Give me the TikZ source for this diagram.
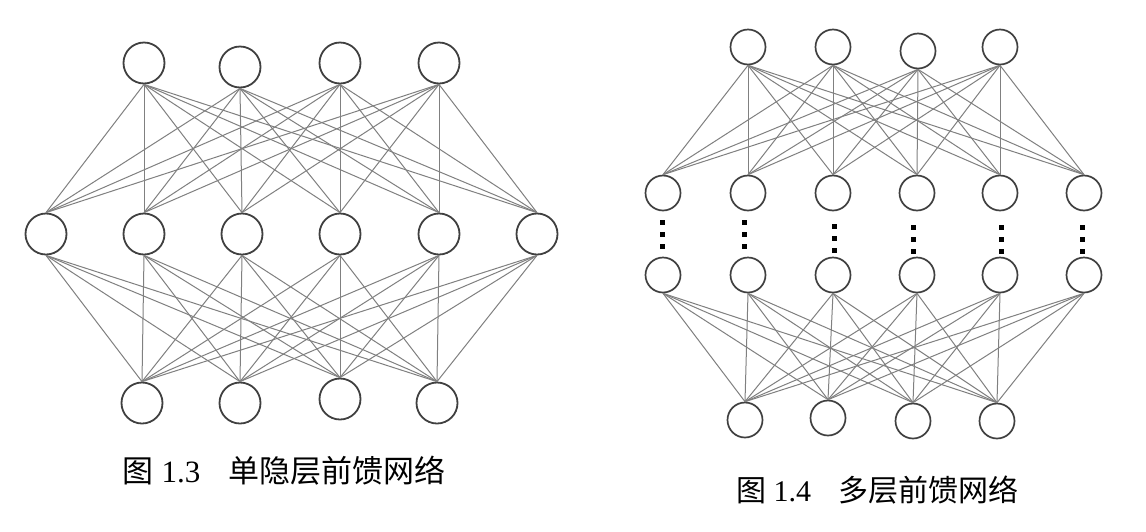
\documentclass[tikz,border=0pt]{standalone}
\usepackage{fontspec}
\setmainfont{Liberation Serif}
\newfontfamily\cjk{Noto Sans CJK SC}
\begin{document}
\begin{tikzpicture}[x=1pt,y=-1pt,
  neuronL/.style={circle,draw=black!75,line width=1.8pt,fill=white,minimum size=41pt,inner sep=0pt},
  neuronR/.style={circle,draw=black!75,line width=1.7pt,fill=white,minimum size=35pt,inner sep=0pt},
  link/.style={draw=black!50,line width=1pt},
  vdot/.style={rectangle,fill=black,minimum size=5pt,inner sep=0pt},
  capL/.style={font=\fontsize{31}{31}\selectfont,inner sep=0pt},
  capR/.style={font=\fontsize{30}{30}\selectfont,inner sep=0pt}]
\fill[white] (0,0) rectangle (1146,531);
\useasboundingbox (0,0) rectangle (1146,531);
% ---------- left: single hidden layer ----------
\foreach \i/\x/\y in {1/144/63,2/240/67,3/340/63,4/439/63}
  \node[neuronL] (LT\i) at (\x,\y) {};
\foreach \i/\x in {1/46,2/144,3/242,4/340,5/439,6/537}
  \node[neuronL] (LM\i) at (\x,234) {};
\foreach \i/\x/\y in {1/142/403,2/240/403,3/340/399,4/437/403}
  \node[neuronL] (LB\i) at (\x,\y) {};
\foreach \i in {1,...,4}
  \foreach \j in {1,...,6}
    \draw[link] (LT\i.south) -- (LM\j.north);
\foreach \i in {1,...,6}
  \foreach \j in {1,...,4}
    \draw[link] (LM\i.south) -- (LB\j.north);
\node[capL] (capl) at (284,471) {{\cjk 图} 1.3\hspace{0.9em}{\cjk 单隐层前馈网络}};
% ---------- right: multi-layer ----------
\foreach \i/\x/\y in {1/748/47,2/833/47,3/918/51,4/1000/47}
  \node[neuronR] (RT\i) at (\x,\y) {};
\foreach \i/\x in {1/663,2/748,3/833,4/917,5/1000,6/1084} {
  \node[neuronR] (RA\i) at (\x,193) {};
  \node[neuronR] (RB\i) at (\x,275) {};
}
\foreach \i/\x/\y in {1/745/420,2/828/418,3/913/421,4/997/421}
  \node[neuronR] (RD\i) at (\x,\y) {};
\foreach \i/\x/\y in {1/662/222,2/744/222,3/834/226,4/913/227,5/1001/227,6/1082/227} {
  \node[vdot] (DA\i) at (\x,\y) {};
  \node[vdot] (DB\i) at (\x,\y+12) {};
  \node[vdot] (DC\i) at (\x,\y+24) {};
}
\foreach \i in {1,...,4}
  \foreach \j in {1,...,6}
    \draw[link] (RT\i.south) -- (RA\j.north);
\foreach \i in {1,...,6}
  \foreach \j in {1,...,4}
    \draw[link] (RB\i.south) -- (RD\j.north);
\node[capR] (capr) at (877,490) {{\cjk 图} 1.4\hspace{0.9em}{\cjk 多层前馈网络}};
\end{tikzpicture}
\end{document}
